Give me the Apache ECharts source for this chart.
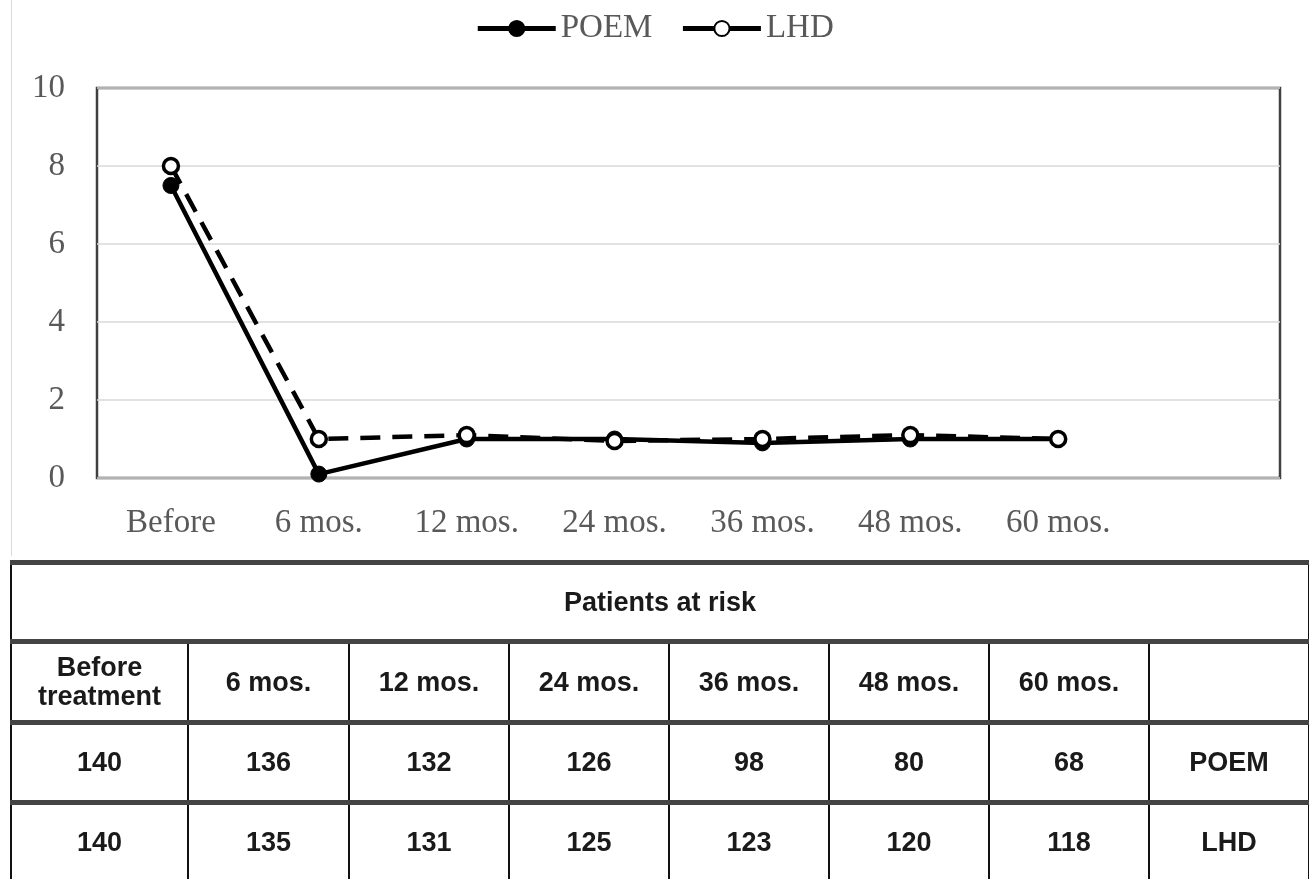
<!DOCTYPE html>
<html>
<head>
<meta charset="utf-8">
<script src="https://cdn.jsdelivr.net/npm/echarts@6/dist/echarts.min.js"></script>
<style>
  html, body { margin: 0; padding: 0; background: #fff; }
  #wrap { position: relative; width: 1309px; height: 879px; overflow: hidden; }
  #chart { position: absolute; left: 0; top: 0; width: 1309px; height: 879px; }
  #edge { position: absolute; left: 11px; top: 0; width: 0; height: 556px; border-left: 1px solid #d9d9d9; }
  #risk { position: absolute; left: 10px; top: 560px; width: 1298px; border-collapse: collapse; table-layout: fixed;
          font-family: "Liberation Sans", Arial, sans-serif; font-weight: bold; font-size: 27px; color: #1a1a1a; }
  #risk td { text-align: center; vertical-align: middle; padding: 0;
             border-left: 2px solid #111; border-right: 2px solid #111;
             border-top: 5px solid #444; border-bottom: 5px solid #444; }
  #risk tr.title td { height: 74px; }
  #risk tr.head td { height: 76px; line-height: 29px; }
  #risk tr.row td { height: 75px; }
</style>
</head>
<body>
<div id="wrap">
  <div id="chart"></div>
  <div id="edge"></div>
  <table id="risk"></table>
</div>
<script>
// ---- data ----
const categories = ['Before', '6 mos.', '12 mos.', '24 mos.', '36 mos.', '48 mos.', '60 mos.', ''];
const poemValues = [7.5, 0.1, 1.0, 1.0, 0.9, 1.0, 1.0];
const lhdValues  = [8.0, 1.0, 1.1, 0.95, 1.0, 1.1, 1.0];
const yTicks = [0, 2, 4, 6, 8, 10];
const tableTitle = 'Patients at risk';
const tableHeaders = ['Before<br>treatment', '6 mos.', '12 mos.', '24 mos.', '36 mos.', '48 mos.', '60 mos.', ''];
const poemAtRisk = [140, 136, 132, 126, 98, 80, 68];
const lhdAtRisk  = [140, 135, 131, 125, 123, 120, 118];
const colWidths = [177, 161, 160, 160, 160, 160, 160, 160];

// ---- table ----
const tbl = document.getElementById('risk');
let html = '<colgroup>' + colWidths.map(w => '<col style="width:' + w + 'px">').join('') + '</colgroup>';
html += '<tr class="title"><td colspan="8">' + tableTitle + '</td></tr>';
html += '<tr class="head">' + tableHeaders.map(h => '<td>' + h + '</td>').join('') + '</tr>';
html += '<tr class="row">' + poemAtRisk.map(v => '<td>' + v + '</td>').join('') + '<td>POEM</td></tr>';
html += '<tr class="row">' + lhdAtRisk.map(v => '<td>' + v + '</td>').join('') + '<td>LHD</td></tr>';
tbl.innerHTML = html;

// ---- chart ----
const chart = echarts.init(document.getElementById('chart'), null, { renderer: 'canvas' });
const serif = '"Liberation Serif", "Times New Roman", serif';
chart.setOption({
  animation: false,
  backgroundColor: 'transparent',
  legend: {
    top: 7,
    left: 'center',
    itemWidth: 78,
    itemHeight: 19,
    itemGap: 28,
    textStyle: { fontFamily: serif, fontSize: 33, color: '#595959' },
    data: [
      { name: 'POEM', lineStyle: { width: 5, type: 'solid', color: '#000' } },
      { name: 'LHD', lineStyle: { width: 5, type: 'solid', color: '#000' } }
    ]
  },
  grid: {
    left: 97, right: 29, top: 88, bottom: 401,
    show: true, borderColor: '#404040', borderWidth: 2.5
  },
  xAxis: {
    type: 'category',
    data: categories,
    boundaryGap: true,
    axisLine: { show: false },
    axisTick: { show: false },
    splitLine: { show: false },
    axisLabel: { fontFamily: serif, fontSize: 33, color: '#595959', margin: 29, interval: 0 }
  },
  yAxis: {
    type: 'value',
    min: yTicks[0], max: yTicks[yTicks.length - 1], interval: 2,
    axisLine: { show: false },
    axisTick: { show: false },
    splitLine: { show: true, lineStyle: { color: '#d9d9d9', width: 1.5 } },
    axisLabel: { fontFamily: serif, fontSize: 33, color: '#595959', margin: 32 }
  },
  series: [
    {
      name: 'POEM', type: 'line', data: poemValues,
      symbol: 'circle', symbolSize: 16,
      lineStyle: { color: '#000', width: 4.5, type: 'solid' },
      itemStyle: { color: '#000', borderColor: '#000', borderWidth: 1 },
      z: 2
    },
    {
      name: 'LHD', type: 'line', data: lhdValues,
      symbol: 'circle', symbolSize: 15,
      lineStyle: { color: '#000', width: 4.5, type: [20, 12] },
      itemStyle: { color: '#fff', borderColor: '#000', borderWidth: 3.5 },
      z: 3
    }
  ]
});
</script>
</body>
</html>
